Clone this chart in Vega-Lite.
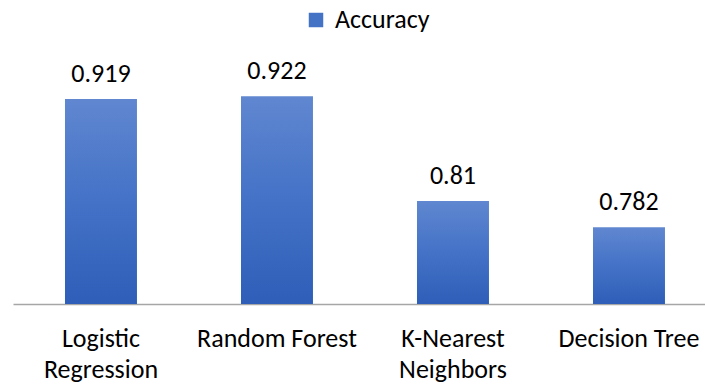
{
  "$schema": "https://vega.github.io/schema/vega-lite/v6.json",
  "width": 692,
  "height": 234,
  "autosize": {"type": "none"},
  "padding": {"left": 13, "top": 70, "right": 0, "bottom": 83},
  "background": "white",
  "config": {
    "view": {"stroke": null},
    "font": "Carlito, Lato, sans-serif"
  },
  "data": {
    "values": [
      {"model": "Logistic Regression", "accuracy": 0.919, "series": "Accuracy"},
      {"model": "Random Forest", "accuracy": 0.922, "series": "Accuracy"},
      {"model": "K-Nearest Neighbors", "accuracy": 0.81, "series": "Accuracy"},
      {"model": "Decision Tree", "accuracy": 0.782, "series": "Accuracy"}
    ]
  },
  "encoding": {
    "x": {
      "field": "model",
      "type": "nominal",
      "sort": null,
      "scale": {"paddingInner": 0.591, "paddingOuter": 0.2614, "align": 0.565},
      "axis": {
        "title": null,
        "labelAngle": 0,
        "ticks": false,
        "domainColor": "#A6A6A6",
        "domainWidth": 1.3,
        "labelFont": "Carlito, Lato, sans-serif",
        "labelFontSize": 26,
        "labelColor": "#000000",
        "labelPadding": 21,
        "labelLineHeight": 31,
        "labelBaseline": "top",
        "labelExpr": "datum.value == 'Logistic Regression' ? ['Logistic', 'Regression'] : datum.value == 'K-Nearest Neighbors' ? ['K-Nearest', 'Neighbors'] : datum.value"
      }
    },
    "y": {
      "field": "accuracy",
      "type": "quantitative",
      "scale": {"domain": [0.7, 0.95], "zero": false, "nice": false},
      "axis": null
    }
  },
  "layer": [
    {
      "mark": {"type": "bar", "opacity": 0},
      "encoding": {
        "y2": {"datum": 0.7},
        "color": {
          "field": "series",
          "type": "nominal",
          "scale": {"range": ["#4472C4"]},
          "legend": {
            "title": null,
            "orient": "none",
            "legendX": 290,
            "legendY": -63,
            "symbolType": "square",
            "symbolSize": 210,
            "symbolStrokeWidth": 0,
            "symbolOpacity": 1,
            "labelFont": "Carlito, Lato, sans-serif",
            "labelFontSize": 26,
            "labelColor": "#000000",
            "labelOffset": 6
          }
        }
      }
    },
    {
      "mark": {
        "type": "bar",
        "color": {"gradient": "linear", "x1": 0, "y1": 0, "x2": 0, "y2": 1,
          "stops": [{"offset": 0, "color": "#6087D0"}, {"offset": 0.5, "color": "#4472C7"}, {"offset": 1, "color": "#2E5EB8"}]}
      },
      "encoding": {
        "y2": {"datum": 0.7}
      }
    },
    {
      "mark": {"type": "text", "baseline": "alphabetic", "dy": -17, "fontSize": 26, "color": "#000000", "font": "Carlito, Lato, sans-serif"},
      "encoding": {
        "text": {"field": "accuracy", "type": "quantitative"}
      }
    }
  ]
}
